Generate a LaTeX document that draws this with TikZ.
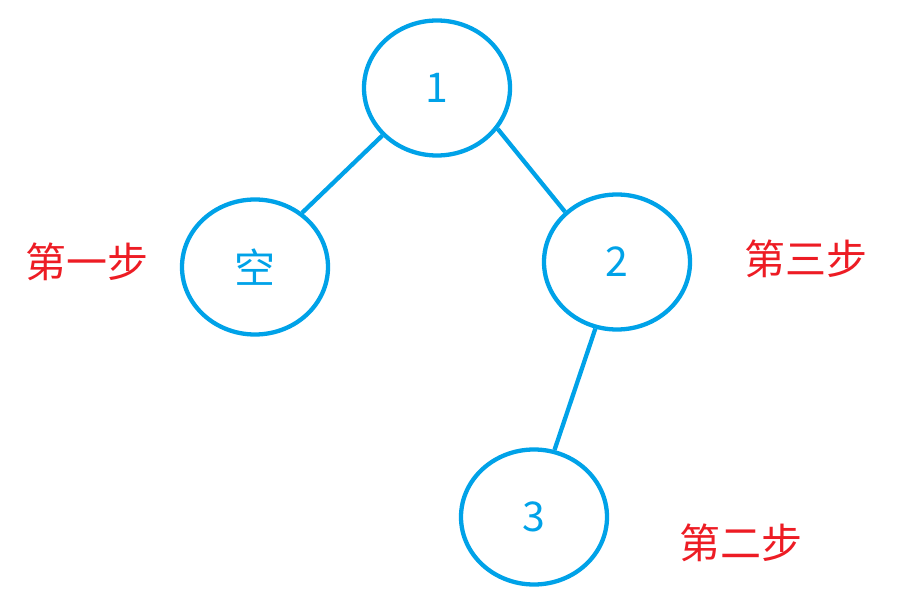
\documentclass[tikz,border=0pt]{standalone}
\usepackage{fontspec}
\setmainfont{Noto Sans CJK SC}
\usetikzlibrary{shapes.geometric}
\definecolor{nodeblue}{RGB}{0,162,232}
\definecolor{steptext}{RGB}{237,28,36}
\begin{document}
\begin{tikzpicture}[x=1pt,y=-1pt,
    treenode/.style={ellipse, draw=nodeblue, line width=4.3pt, minimum width=146pt, minimum height=135pt, inner sep=0pt, text=nodeblue, font=\fontsize{41}{43}\selectfont},
    edge/.style={draw=nodeblue, line width=4.3pt},
    steplabel/.style={text=steptext, font=\fontsize{41}{43}\selectfont}]
        \useasboundingbox (0,0) rectangle (902,601);
        \node [treenode] (n1) at (437,88) {1};
        \node [treenode] (nempty) at (255,267) {空};
        \node [treenode] (n2) at (617,262) {2};
        \node [treenode] (n3) at (534,517) {3};
        \draw [edge] (n1.-139) -- (nempty.49);
        \draw [edge] (n1.-34) -- (n2.136);
        \draw [edge] (n2.-108) -- (n3.73);
        \node [steplabel] (first) at (87,262) {第一步};
        \node [steplabel] (third) at (806,259) {第三步};
        \node [steplabel] (second) at (741,543) {第二步};
    \end{tikzpicture}
\end{document}
